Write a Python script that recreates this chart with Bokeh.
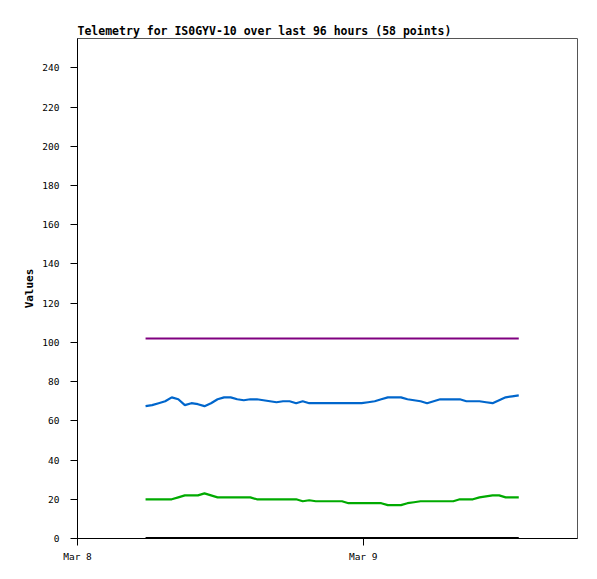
import pandas as pd
from bokeh.plotting import figure
from bokeh.models import Range1d, FixedTicker
from bokeh.embed import file_html
from bokeh.resources import INLINE

# ---- data ----
times = pd.date_range("2024-03-08 05:43", periods=58, freq="33min")
series_blue = [67.5, 68, 69, 70, 72, 71, 68, 69, 68.5, 67.5,
               69, 71, 72, 72, 71, 70.5, 71, 71, 70.5, 70,
               69.5, 70, 70, 69, 70, 69, 69, 69, 69, 69,
               69, 69, 69, 69, 69.5, 70, 71, 72, 72, 72,
               71, 70.5, 70, 69, 70, 71, 71, 71, 71, 70,
               70, 70, 69.5, 69, 70.5, 72, 72.5, 73]
series_green = [20, 20, 20, 20, 20, 21, 22, 22, 22, 23,
                22, 21, 21, 21, 21, 21, 21, 20, 20, 20,
                20, 20, 20, 20, 19, 19.5, 19, 19, 19, 19,
                19, 18, 18, 18, 18, 18, 18, 17, 17, 17,
                18, 18.5, 19, 19, 19, 19, 19, 19, 20, 20,
                20, 21, 21.5, 22, 22, 21, 21, 21]
series_purple = [102] * 58
series_black = [0] * 58
y_ticks = list(range(0, 241, 20))
x_tick_labels = {"2024-03-08": "Mar 8", "2024-03-09": "Mar 9"}

mono = "DejaVu Sans Mono"

p = figure(width=597, height=579, output_backend="svg", toolbar_location=None,
           x_axis_type="datetime",
           x_range=Range1d(pd.Timestamp("2024-03-08 00:00"), pd.Timestamp("2024-03-09 18:00")),
           y_range=Range1d(0, 255),
           min_border_left=77, min_border_right=20, min_border_top=38, min_border_bottom=41)

p.title.text = "Telemetry for IS0GYV-10 over last 96 hours (58 points)"
p.title.text_font = mono
p.title.text_font_size = "11.5px"
p.title.text_font_style = "bold"
p.title.text_color = "black"
p.title.align = "left"
p.title.offset = 0
p.title.standoff = 2

p.xgrid.visible = False
p.ygrid.visible = False
p.outline_line_color = "#555555"
p.outline_line_width = 1
p.background_fill_color = "white"
p.border_fill_color = "white"

line_w = 2.2
p.line(times, series_black, line_color="black", line_width=3)
p.line(times, series_green, line_color="#00AA00", line_width=line_w)
p.line(times, series_blue, line_color="#0066CC", line_width=line_w)
p.line(times, series_purple, line_color="#800080", line_width=line_w)

tick_ms = [pd.Timestamp(k).value / 1e6 for k in x_tick_labels]
p.xaxis.ticker = FixedTicker(ticks=tick_ms)
p.xaxis.major_label_overrides = {t: lab for t, lab in zip(tick_ms, x_tick_labels.values())}
p.yaxis.ticker = FixedTicker(ticks=y_ticks)

for ax in (p.xaxis, p.yaxis):
    ax.axis_line_color = "black"
    ax.major_tick_line_color = "black"
    ax.major_tick_out = 7
    ax.major_tick_in = 0
    ax.minor_tick_line_color = None
    ax.major_label_text_font = mono
    ax.major_label_text_font_size = "9.5px"
    ax.major_label_text_color = "black"

p.xaxis.major_label_standoff = 5
p.yaxis.major_label_standoff = 11

p.yaxis.axis_label = "Values"
p.yaxis.axis_label_text_font = mono
p.yaxis.axis_label_text_font_size = "11px"
p.yaxis.axis_label_text_font_style = "bold"
p.yaxis.axis_label_text_color = "black"
p.yaxis.axis_label_standoff = 3

open("out.html", "w").write(file_html(p, INLINE))
